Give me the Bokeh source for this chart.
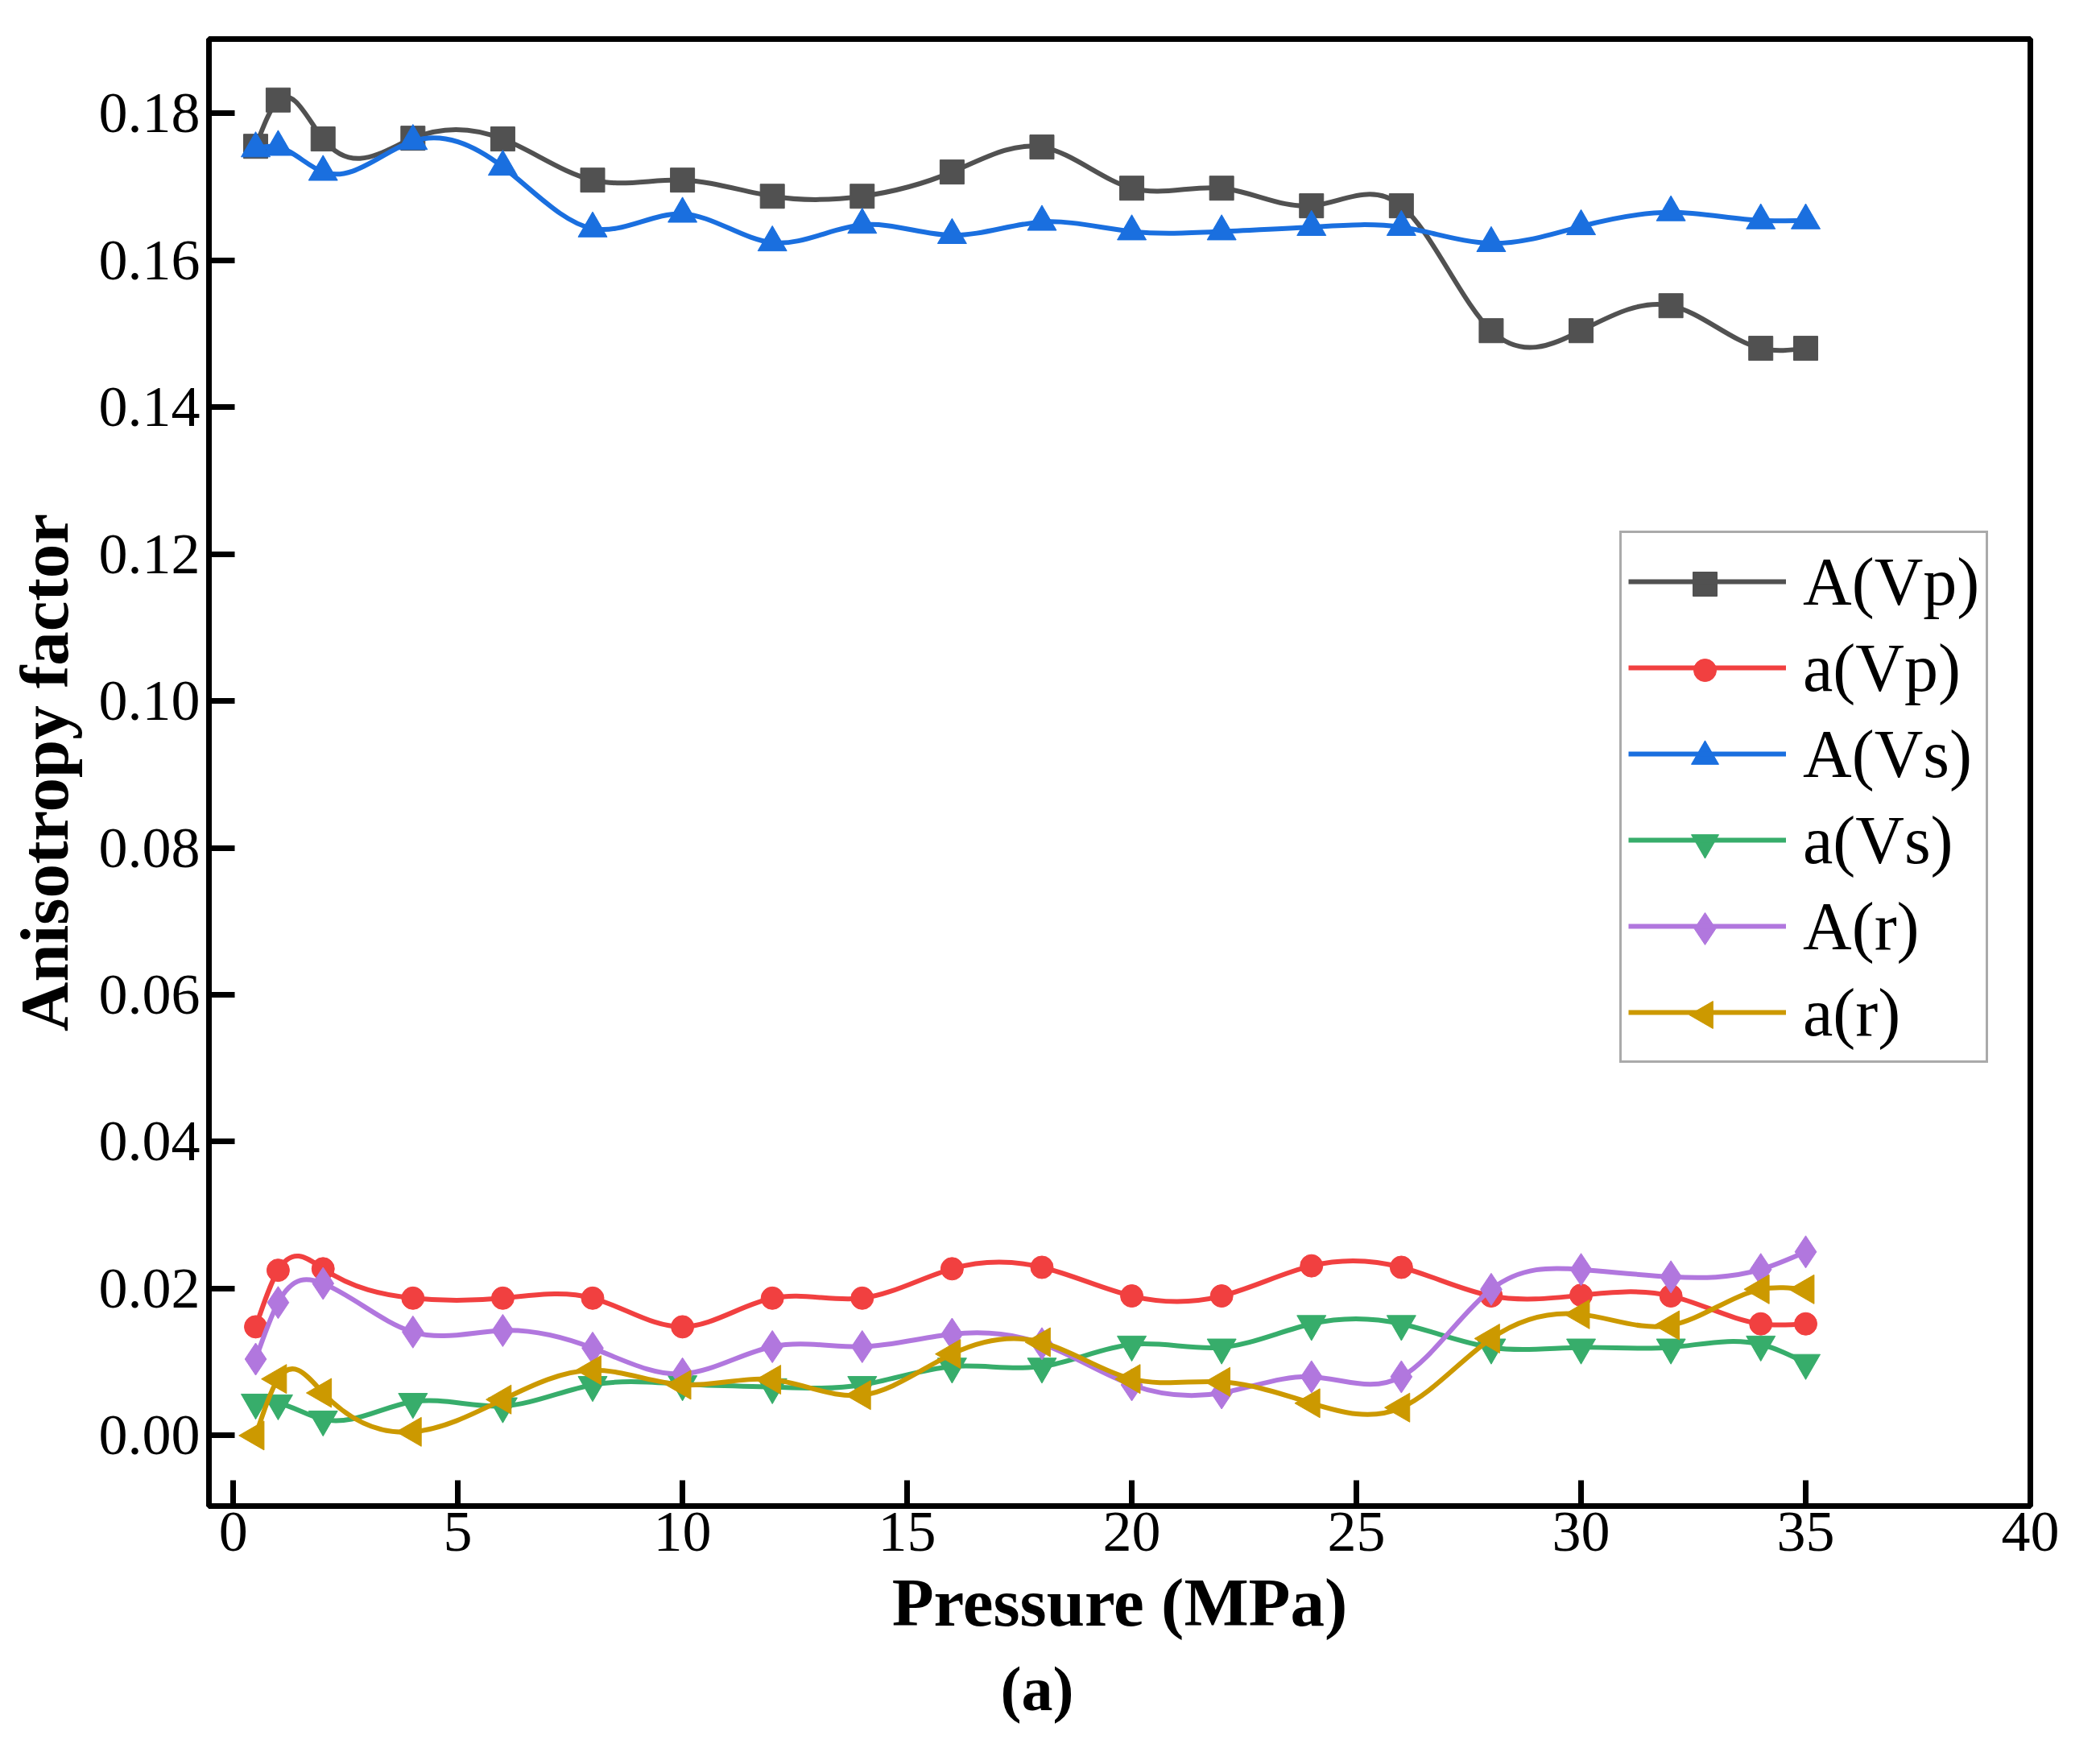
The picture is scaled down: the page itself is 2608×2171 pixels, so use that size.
import numpy as np
from bokeh.plotting import figure
from bokeh.models import Range1d, FixedTicker, PrintfTickFormatter, Legend, LegendItem, Title, ColumnDataSource
from bokeh.embed import file_html
from bokeh.resources import INLINE

# ---------------- data ----------------
pressure = [0.5, 1, 2, 4, 6, 8, 10, 12, 14, 16, 18, 20, 22, 24, 26, 28, 30, 32, 34, 35]

A_Vp = [0.1755, 0.1818, 0.1765, 0.1766, 0.1765, 0.1709, 0.1709, 0.1687, 0.1687, 0.1720,
        0.1754, 0.1698, 0.1698, 0.1674, 0.1674, 0.1504, 0.1504, 0.1538, 0.1480, 0.1480]
a_Vp = [0.0148, 0.0225, 0.0227, 0.0187, 0.0187, 0.0187, 0.0148, 0.0187, 0.0187, 0.0227,
        0.0229, 0.0190, 0.0190, 0.0231, 0.0229, 0.0190, 0.0191, 0.0190, 0.0152, 0.0152]
A_Vs = [0.1752, 0.1754, 0.1720, 0.1762, 0.1727, 0.1643, 0.1663, 0.1624, 0.1648, 0.1634,
        0.1652, 0.1639, 0.1639, 0.1645, 0.1645, 0.1623, 0.1646, 0.1665, 0.1654, 0.1654]
a_Vs = [0.0045, 0.0044, 0.0022, 0.0046, 0.0040, 0.0069, 0.0070, 0.0066, 0.0069, 0.0094,
        0.0094, 0.0124, 0.0120, 0.0152, 0.0152, 0.0120, 0.0120, 0.0120, 0.0124, 0.0099]
A_r = [0.0104, 0.0181, 0.0207, 0.0141, 0.0143, 0.0119, 0.0084, 0.0121, 0.0121, 0.0138,
       0.0125, 0.0069, 0.0058, 0.0080, 0.0080, 0.0199, 0.0226, 0.0216, 0.0226, 0.0250]
a_r = [0.0000, 0.0077, 0.0058, 0.0005, 0.0049, 0.0089, 0.0069, 0.0076, 0.0055, 0.0111,
       0.0127, 0.0077, 0.0073, 0.0044, 0.0038, 0.0132, 0.0165, 0.0150, 0.0199, 0.0199]

series_names = ["A(Vp)", "a(Vp)", "A(Vs)", "a(Vs)", "A(r)", "a(r)"]
series_values = [A_Vp, a_Vp, A_Vs, a_Vs, A_r, a_r]

x_ticks = [0, 5, 10, 15, 20, 25, 30, 35, 40]
y_ticks = [0.00, 0.02, 0.04, 0.06, 0.08, 0.10, 0.12, 0.14, 0.16, 0.18]

# ---------------- styles ----------------
colors = ["#515151", "#F14040", "#1A6FDF", "#37AD6B", "#B177DE", "#CC9900"]
markers = ["square", "circle", "triangle", "inverted_triangle", "diamond", "triangle"]
angles = [0, 0, 0, 0, 0, np.pi / 2]
sizes = [30, 28, 36, 36, 40, 36]
legend_sizes = [30, 28, 34, 34, 40, 34]
FONT = "Liberation Serif"

X0, X1 = -0.54, 40.0
Y0, Y1 = -0.0096, 0.1901
FW, FH = 2262, 1822


def spline_segments(x, y):
    """Natural cubic spline through the points, as exact Bezier segments."""
    x = np.asarray(x, float)
    y = np.asarray(y, float)
    n = len(x)
    h = np.diff(x)
    A = np.zeros((n, n))
    b = np.zeros(n)
    A[0, 0] = 1.0
    A[-1, -1] = 1.0
    for i in range(1, n - 1):
        A[i, i - 1] = h[i - 1]
        A[i, i] = 2 * (h[i - 1] + h[i])
        A[i, i + 1] = h[i]
        b[i] = 6 * ((y[i + 1] - y[i]) / h[i] - (y[i] - y[i - 1]) / h[i - 1])
    M = np.linalg.solve(A, b)
    slope = np.diff(y) / h
    d0 = slope - h * (2 * M[:-1] + M[1:]) / 6
    d1 = slope + h * (M[:-1] + 2 * M[1:]) / 6
    return dict(
        x0=x[:-1], y0=y[:-1], x1=x[1:], y1=y[1:],
        cx0=x[:-1] + h / 3, cy0=y[:-1] + d0 * h / 3,
        cx1=x[1:] - h / 3, cy1=y[1:] - d1 * h / 3,
    )


p = figure(frame_width=FW, frame_height=FH,
           min_border_left=259, min_border_right=69,
           min_border_top=48, min_border_bottom=280,
           x_range=Range1d(X0, X1), y_range=Range1d(Y0, Y1),
           output_backend="svg", toolbar_location=None)

p.grid.visible = False
p.outline_line_color = "black"
p.outline_line_width = 7
p.outline_line_alpha = 1.0

for ax in (p.xaxis, p.yaxis):
    ax.axis_line_width = 7
    ax.axis_line_color = "black"
    ax.major_tick_line_width = 7
    ax.major_tick_line_color = "black"
    ax.major_tick_in = 32
    ax.major_tick_out = 0
    ax.minor_tick_in = 0
    ax.minor_tick_out = 0
    ax.minor_tick_line_color = None
    ax.major_label_text_font = FONT
    ax.major_label_text_font_size = "72px"
    ax.major_label_text_color = "black"
    ax.axis_label_text_font = FONT
    ax.axis_label_text_font_size = "85px"
    ax.axis_label_text_font_style = "bold"
    ax.axis_label_text_color = "black"

p.xaxis.ticker = FixedTicker(ticks=x_ticks, minor_ticks=[])
p.yaxis.ticker = FixedTicker(ticks=y_ticks, minor_ticks=[])
p.yaxis.formatter = PrintfTickFormatter(format="%.2f")
p.xaxis.axis_label = "Pressure (MPa)"
p.yaxis.axis_label = "Anisotropy factor"
p.xaxis.major_label_standoff = 8
p.yaxis.major_label_standoff = 11
p.xaxis.axis_label_standoff = 14
p.yaxis.axis_label_standoff = 18

# legend layout (screen px, relative to the frame)
LX, LY = 1752, 550
PAD, GW, ROW, SP = 8, 196, 104, 3
NITEM = len(series_names)
LH = 2 * PAD + NITEM * ROW + (NITEM - 1) * SP

# white box behind the legend (legend itself is transparent so key markers show through)
bx0 = X0 + LX * (X1 - X0) / FW
by0 = Y0 + LY * (Y1 - Y0) / FH
p.quad(left=[bx0], right=[X0 + (LX + 2 * PAD + 450) * (X1 - X0) / FW],
       bottom=[by0], top=[Y0 + (LY + LH) * (Y1 - Y0) / FH],
       fill_color="white", line_color=None, level="underlay")

items = []
key_x, key_y = [], []
for i, (name, vals, col, mk, ang, sz) in enumerate(
        zip(series_names, series_values, colors, markers, angles, sizes)):
    seg = spline_segments(pressure, vals)
    p.bezier(x0="x0", y0="y0", x1="x1", y1="y1", cx0="cx0", cy0="cy0", cx1="cx1", cy1="cy1",
             source=ColumnDataSource(seg), line_color=col, line_width=6)
    ln = p.line(pressure, vals, line_color=col, line_width=6, visible=False)
    p.scatter(pressure, vals, marker=mk, size=sz, angle=ang,
              fill_color=col, line_color=col, line_width=1)
    items.append(LegendItem(label=name, renderers=[ln]))
    # centre of this item's key, converted from legend layout to data units
    cx_px = LX + PAD + GW / 2
    cy_px = LY + LH - PAD - (i + 0.5) * ROW - i * SP
    key_x.append(X0 + cx_px * (X1 - X0) / FW)
    key_y.append(Y0 + cy_px * (Y1 - Y0) / FH)

legend = Legend(items=items, location=(LX, LY), orientation="vertical",
                label_text_font=FONT, label_text_font_size="84px", label_text_color="black",
                glyph_width=GW, glyph_height=ROW, label_height=ROW, spacing=SP,
                label_standoff=21, padding=PAD, margin=0,
                border_line_color="#555555", border_line_width=3,
                background_fill_color="white", background_fill_alpha=0.0)
p.add_layout(legend)

# legend key markers
for i in range(NITEM):
    p.scatter([key_x[i]], [key_y[i]], marker=markers[i], size=legend_sizes[i], angle=angles[i],
              fill_color=colors[i], line_color=colors[i], line_width=1)

cap = Title(text="(a)", align="left", offset=983, text_font=FONT, text_font_size="78px",
            text_font_style="bold", text_color="black", standoff=25)
p.add_layout(cap, "below")

open("out.html", "w").write(file_html(p, INLINE))
